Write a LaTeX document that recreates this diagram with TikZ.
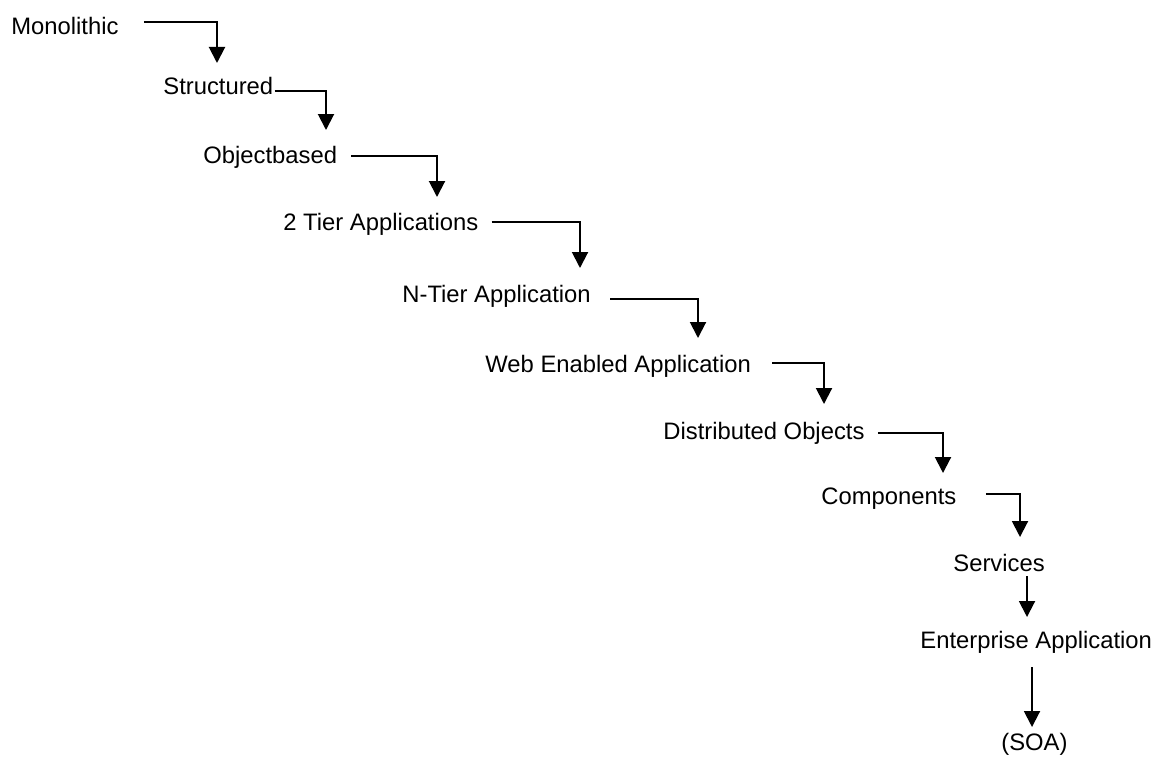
\documentclass[tikz,border=0pt]{standalone}
\usepackage{fontspec}
\setmainfont{Liberation Sans}
\usetikzlibrary{arrows.meta}
\begin{document}
\begin{tikzpicture}[x=0.5pt,y=-0.5pt,
  stage/.style={anchor=base west,inner sep=0pt,text height=8.5pt,text depth=2.5pt,font=\fontsize{11.9}{14}\selectfont},
  flow/.style={line width=1pt,-{Triangle[length=8pt,width=8pt]}}]
\useasboundingbox (0,0) rectangle (1154,765);
\node[stage] (mono) at (11,35) {Monolithic};
\node[stage] (struc) at (163,95) {Structured};
\node[stage] (objb) at (203,163) {Objectbased};
\node[stage] (twot) at (283,230) {2 Tier Applications};
\node[stage] (ntier) at (402,302) {N-Tier Application};
\node[stage] (web) at (485,372) {Web Enabled Application};
\node[stage] (dist) at (663,439) {Distributed Objects};
\node[stage] (comp) at (821,504) {Components};
\node[stage] (serv) at (953,571) {Services};
\node[stage] (ent) at (920,648) {Enterprise Application};
\node[stage] (soa) at (1001,750) {(SOA)};
% arrow tips
\coordinate (t1) at (217,63);
\coordinate (t2) at (326,130);
\coordinate (t3) at (437,197);
\coordinate (t4) at (580,268);
\coordinate (t5) at (698,338);
\coordinate (t6) at (824,404);
\coordinate (t7) at (943,473);
\coordinate (t8) at (1020,537);
\coordinate (t9) at (1027,617);
\coordinate (t10) at (1032,727);
\draw[flow] ([xshift=12.5pt,yshift=3.5pt]mono.east) -| (t1);
\draw[flow] ([xshift=0.5pt,yshift=-1pt]struc.east) -| (t2);
\draw[flow] ([xshift=7pt,yshift=0.5pt]objb.east) -| (t3);
\draw[flow] ([xshift=6.5pt,yshift=1pt]twot.east) -| (t4);
\draw[flow] ([xshift=9.5pt,yshift=-1.5pt]ntier.east) -| (t5);
\draw[flow] ([xshift=10.5pt,yshift=1.5pt]web.east) -| (t6);
\draw[flow] ([xshift=6.5pt]dist.east) -| (t7);
\draw[flow] ([xshift=14.5pt,yshift=2pt]comp.east) -| (t8);
\draw[flow] (serv.south -| t9) -- (t9);
\draw[flow] ([yshift=-7pt]ent.south -| t10) -- (t10);
\end{tikzpicture}
\end{document}
